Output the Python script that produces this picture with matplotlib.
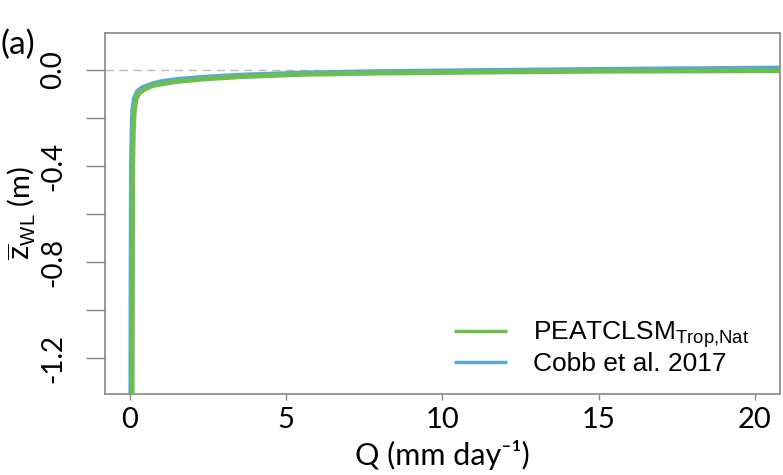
import matplotlib
matplotlib.use("Agg")
import matplotlib.pyplot as plt

plt.rcParams['mathtext.fontset'] = 'custom'
plt.rcParams['mathtext.rm'] = 'Liberation Sans'
plt.rcParams['mathtext.it'] = 'Liberation Sans:italic'

# discharge Q (mm/day) vs mean water level z_WL (m)
q_peat = [0.07, 0.08, 0.09, 0.11, 0.14, 0.2, 0.3, 0.5, 0.7, 1.0, 1.5, 2.3, 3.5, 5.5, 8.0, 11.0, 15.0, 21.0]
z_peat = [-1.40, -0.8, -0.4, -0.25, -0.17, -0.12, -0.095, -0.078, -0.066, -0.058, -0.048, -0.038, -0.028,
          -0.018, -0.013, -0.009, -0.005, -0.003]

q_cobb = [0.04, 0.05, 0.06, 0.08, 0.1, 0.15, 0.25, 0.4, 0.7, 1.0, 1.5, 2.3, 3.5, 5.5, 8.0, 11.0, 15.0, 21.0]
z_cobb = [-1.40, -0.8, -0.4, -0.25, -0.17, -0.12, -0.09, -0.075, -0.06, -0.05, -0.041, -0.032, -0.023,
          -0.014, -0.008, -0.004, 0.001, 0.007]

yticks = [0.0, -0.2, -0.4, -0.6, -0.8, -1.0, -1.2]
ylabels = ["0.0", "", "-0.4", "", "-0.8", "", "-1.2"]
xticks = [0, 5, 10, 15, 20]

green = "#6bbf4e"
blue = "#5aa6d8"
tickfont = ["Lato", "DejaVu Sans"]

fig = plt.figure(figsize=(7.83, 4.75), dpi=100)
ax = fig.add_axes([0.134, 0.170, 0.862, 0.761])

ax.axhline(0, color="#bbbbbb", lw=1, ls=(0, (6, 4)), zorder=1)
ax.plot(q_cobb, z_cobb, color=blue, lw=4, solid_capstyle="butt", label="Cobb et al. 2017", zorder=2)
ax.plot(q_peat, z_peat, color=green, lw=3.5, solid_capstyle="butt",
        label=r"PEATCLSM$_{\mathrm{Trop{,}Nat}}$", zorder=3)

ax.set_xlim(-0.8, 20.8)
ax.set_ylim(-1.35, 0.155)

ax.set_xticks(xticks)
ax.set_xticklabels([str(v) for v in xticks], fontsize=21, family=tickfont)
ax.set_yticks(yticks)
ax.set_yticklabels(ylabels, fontsize=20, family=tickfont, rotation=90, va="center")
ax.tick_params(axis="x", length=4, width=1, color="#888888", pad=5)
ax.tick_params(axis="y", length=14, width=1, color="#888888", pad=14)

for s in ax.spines.values():
    s.set_color("#888888")
    s.set_linewidth(1.2)

ax.set_xlabel("Q (mm day⁻¹)", fontsize=22, family=tickfont, labelpad=5)
ax.set_ylabel(r"$\overline{\mathrm{z}}_{\mathrm{WL}}$ (m)", fontsize=21, family=tickfont, labelpad=2)

h, l = ax.get_legend_handles_labels()
leg = ax.legend(h[::-1], l[::-1], loc="lower right", frameon=False,
                prop={"family": "Liberation Sans", "size": 19},
                handlelength=2.0, handletextpad=1.0, labelspacing=0.05,
                bbox_to_anchor=(0.982, 0.0), borderaxespad=0.3)
for line in leg.get_lines():
    line.set_linewidth(2.5)

fig.text(0.0, 0.905, "(a)", fontsize=24, family=tickfont, va="center")

fig.savefig("out.png", dpi=100)
